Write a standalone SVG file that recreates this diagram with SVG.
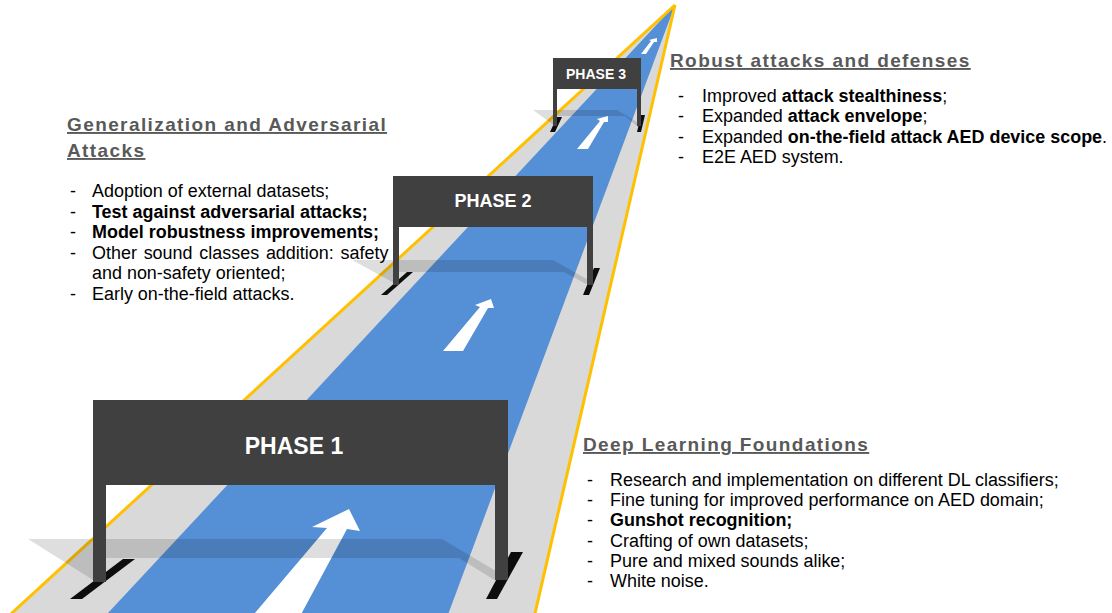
<svg xmlns="http://www.w3.org/2000/svg" width="1112" height="613" viewBox="0 0 1112 613">
  <style>
    .road { fill: #d9d9d9; }
    .lane { fill: #558fd6; }
    .edge { stroke: #ffc000; stroke-width: 3; fill: none; }
    .mark { fill: #ffffff; }
    .shadow { fill: #000000; fill-opacity: 0.13; }
    .panel { fill: #404040; }
    .foot { fill: #0d0d0d; }
    .sign-label { font-family: "Liberation Sans", Arial, sans-serif; font-weight: bold; fill: #ffffff; text-anchor: middle; }
    .title { font-family: "Liberation Sans", Arial, sans-serif; font-weight: bold; font-size: 19px; letter-spacing: 1.4px; fill: #595959; text-decoration: underline; }
    .body { font-family: "Liberation Sans", Arial, sans-serif; font-size: 17.95px; fill: #000000; }
    .b { font-weight: bold; }
  </style>
  <rect width="1112" height="613" fill="#ffffff"/>

  <!-- road in perspective, vanishing at the top -->
  <g id="road">
    <polygon class="road" points="675,5 533.5,620 4.3,620"/>
    <polygon class="lane" points="675,5 446,620 101.5,620"/>
    <line class="edge" x1="675" y1="5" x2="4.3" y2="620"/>
    <line class="edge" x1="675" y1="5" x2="533.5" y2="620"/>
  </g>

  <!-- lane arrows -->
  <g id="connectors">
    <polygon class="mark" points="349,509 360,531 347,529 298,620 249,620 327,528 312,527"/>
    <polygon class="mark" points="491,299 494,308 488,308 463,351 443,351 480,307 475,305"/>
    <polygon class="mark" points="608,116 608,122 604,122 588,149 577,149 600,121 597,119"/>
    <polygon class="mark" points="657,38 657,42 654,42 646,54 641,54 651,41 649,40"/>
  </g>

  <!-- sign shadows on the ground -->
  <g id="shadows">
    <polygon class="shadow" points="28,539 442,539 506,577 496,581 459,558 93,558 93,580"/>
    <polygon class="shadow" points="352,260 553,260 592,282 586,284 564,272 396,272 396,284"/>
    <polygon class="shadow" points="533,110 617,110 642,125 638,127 625,116 555,116 555,126"/>
  </g>

  <g id="phase3">
    <polygon class="foot" points="550,132 555,132 562,117 557,117"/>
    <polygon class="foot" points="637,132 641,132 645,115 641,115"/>
    <rect class="panel" x="553" y="58" width="4" height="68"/>
    <rect class="panel" x="637" y="58" width="4" height="68"/>
    <rect class="panel" x="553" y="58" width="88" height="31"/>
    <text class="sign-label" x="596" y="79" font-size="14">PHASE 3</text>
  </g>

  <g id="phase2">
    <polygon class="foot" points="381,295 387,295 413,272 407,272"/>
    <polygon class="foot" points="583,295 589,295 600,268 594,268"/>
    <rect class="panel" x="393" y="176" width="6" height="109"/>
    <rect class="panel" x="587" y="176" width="6" height="109"/>
    <rect class="panel" x="393" y="176" width="200" height="51"/>
    <text class="sign-label" x="493" y="207" font-size="18">PHASE 2</text>
  </g>

  <g id="phase1">
    <polygon class="foot" points="70,599 82,599 135,559 123,559"/>
    <polygon class="foot" points="486,599 497,599 523,552 511,552"/>
    <rect class="panel" x="93" y="400" width="13" height="182"/>
    <rect class="panel" x="495" y="400" width="13" height="180"/>
    <rect class="panel" x="93" y="400" width="415" height="85"/>
    <text class="sign-label" x="294" y="454" font-size="23">PHASE 1</text>
  </g>

  <g id="generalization-block">
    <text class="title" x="67" y="131">Generalization and Adversarial</text>
    <text class="title" x="67" y="157">Attacks</text>
    <g class="body">
      <text x="70" y="197">-</text><text x="92" y="197">Adoption of external datasets;</text>
      <text x="70" y="217.5">-</text><text x="92" y="217.5" class="b">Test against adversarial attacks;</text>
      <text x="70" y="238">-</text><text x="92" y="238" class="b">Model robustness improvements;</text>
      <text x="70" y="258.5">-</text><text x="92" y="258.5" word-spacing="1.8">Other sound classes addition: safety</text>
      <text x="92" y="279">and non-safety oriented;</text>
      <text x="70" y="299.5">-</text><text x="92" y="299.5">Early on-the-field attacks.</text>
    </g>
  </g>

  <g id="robust-block">
    <text class="title" x="670" y="67">Robust attacks and defenses</text>
    <g class="body">
      <text x="678" y="102">-</text><text x="702" y="102">Improved <tspan class="b">attack stealthiness</tspan>;</text>
      <text x="678" y="122">-</text><text x="702" y="122">Expanded <tspan class="b">attack envelope</tspan>;</text>
      <text x="678" y="142.5">-</text><text x="702" y="142.5">Expanded <tspan class="b">on-the-field attack AED device scope</tspan>.</text>
      <text x="678" y="163">-</text><text x="702" y="163">E2E AED system.</text>
    </g>
  </g>

  <g id="foundations-block">
    <text class="title" x="583" y="451">Deep Learning Foundations</text>
    <g class="body">
      <text x="587" y="486">-</text><text x="610" y="486">Research and implementation on different DL classifiers;</text>
      <text x="587" y="506">-</text><text x="610" y="506">Fine tuning for improved performance on AED domain;</text>
      <text x="587" y="526">-</text><text x="610" y="526" class="b">Gunshot recognition;</text>
      <text x="587" y="546.5">-</text><text x="610" y="546.5">Crafting of own datasets;</text>
      <text x="587" y="566.5">-</text><text x="610" y="566.5">Pure and mixed sounds alike;</text>
      <text x="587" y="587">-</text><text x="610" y="587">White noise.</text>
    </g>
  </g>
</svg>
